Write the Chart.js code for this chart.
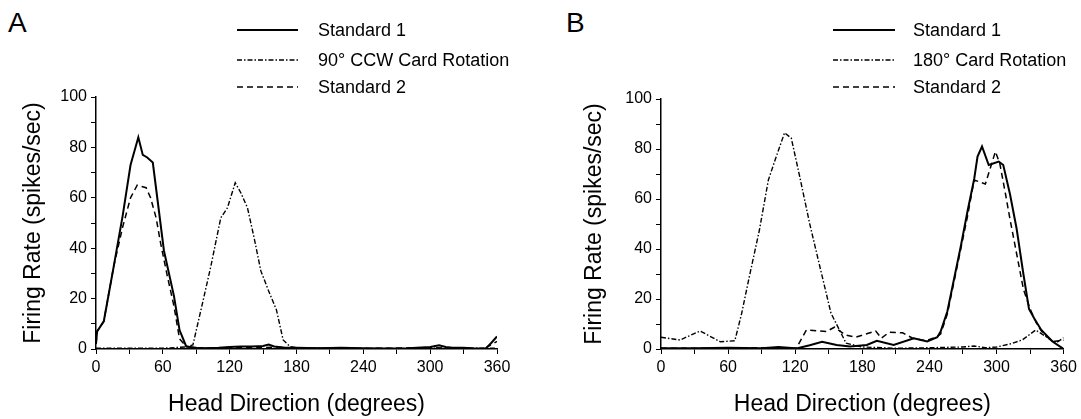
<!DOCTYPE html>
<html><head><meta charset="utf-8">
<script src="https://cdn.jsdelivr.net/npm/chart.js@4.4.1/dist/chart.umd.min.js"></script>
<style>
html,body{margin:0;padding:0;background:#fff;width:1081px;height:419px;overflow:hidden;font-family:"Liberation Sans",Arial,sans-serif;}
canvas{position:absolute;top:0;}
#ca{left:0;}
#cb{left:560px;}
.letter{position:absolute;font-size:28px;line-height:28px;color:#000;}
.leg{position:absolute;font-size:18px;line-height:18px;color:#000;white-space:nowrap;}
svg.ln{position:absolute;overflow:visible;}
</style></head><body>
<div class="letter" style="left:8px;top:9px;">A</div>
<div class="letter" style="left:566px;top:9px;">B</div>
<canvas id="ca" width="540" height="419" style="width:540px;height:419px"></canvas>
<canvas id="cb" width="521" height="419" style="width:521px;height:419px"></canvas>
<div id="legs"></div>
<script>
// ---- tick labels ----
const xTickLabels = [0, 60, 120, 180, 240, 300, 360];
const yTickLabels = [0, 20, 40, 60, 80, 100];

// ---- Panel A ----
const legendA = ['Standard 1', '90\u00B0 CCW Card Rotation', 'Standard 2'];
const aStd1Deg  = [0, 1, 7, 16, 24, 31, 38, 42, 46, 51, 61, 70, 75, 81, 90, 100, 110, 120, 130, 140, 150, 155, 160, 170, 180, 200, 220, 240, 260, 280, 300, 308, 314, 320, 330, 340, 350, 355, 360];
const aStd1Rate = [2, 7, 11, 33, 53, 73, 84, 77, 76, 74, 39, 21, 7.5, 1, 0.5, 0.3, 0.5, 0.8, 1, 1, 1.2, 1.8, 1, 0.5, 0.5, 0.3, 0.5, 0.3, 0.2, 0.3, 0.8, 1.5, 0.8, 0.5, 0.5, 0.2, 0.2, 2.5, 5];
const aRotDeg   = [0, 30, 60, 80, 87, 95, 103, 112, 118, 125, 130, 136, 142, 148, 155, 162, 168, 174, 180, 240, 300, 360];
const aRotRate  = [0.3, 0.3, 0.3, 0.8, 1.6, 17, 32.6, 52, 56, 66, 62, 56, 44, 31, 23, 15.5, 3.6, 1, 0.5, 0.2, 0.3, 0.3];
const aStd2Deg  = [0, 1, 7, 16, 24, 31, 37, 45, 49, 54, 58, 64, 70, 75, 81, 90, 120, 150, 160, 180, 240, 300, 330, 348, 360];
const aStd2Rate = [2, 7, 11, 33, 48.5, 60, 65, 64, 60, 52, 42, 29, 17, 4, 1, 0.3, 0.5, 0.5, 0.8, 0.3, 0.2, 0.5, 0.3, 0, 3];

// ---- Panel B ----
const legendB = ['Standard 1', '180\u00B0 Card Rotation', 'Standard 2'];
const bStd1Deg  = [0, 30, 60, 90, 105, 120, 122, 133, 144, 157, 169, 184, 193, 208, 226, 238, 247, 250, 256, 262, 268, 274, 280, 283, 287, 293, 302, 306, 312, 318, 324, 329, 334, 340, 350, 360];
const bStd1Rate = [0.3, 0.3, 0.5, 0.3, 0.8, 0.3, 0.3, 1.5, 2.9, 1.6, 1, 1.6, 3.3, 1.6, 4.3, 3, 4.7, 7, 15, 28, 41, 55, 68, 77, 81, 73.6, 75, 73.6, 62, 48, 30, 16, 12, 7.6, 3, 0];
const bRotDeg   = [0, 17, 35, 53, 66, 72, 79, 88, 96, 102, 110.5, 116.5, 124, 133, 142, 152, 165.5, 180, 210, 240, 270, 280, 290, 300, 312, 323, 335, 344, 352.6, 360];
const bRotRate  = [4.7, 3.6, 7.2, 2.9, 3.3, 14, 29, 47.6, 67.6, 75.6, 86.5, 84.3, 69, 50, 33, 14.3, 2.3, 0.8, 0.3, 0.5, 0.8, 1.2, 0.5, 0.8, 2, 3.6, 7.6, 5, 2.3, 4.5];
const bStd2Deg  = [0, 30, 60, 90, 120, 121, 130, 148, 155, 165, 174, 192, 197, 204, 216, 225, 237, 246, 250, 256, 262, 268, 274, 280, 290, 299, 303, 308, 312, 318, 324, 330, 336, 342, 350, 360];
const bStd2Rate = [0.3, 0.3, 0.3, 0.5, 0.3, 0.3, 7.6, 7, 8.7, 5.6, 4.7, 7.2, 4.3, 6.7, 6.5, 4.3, 3.3, 4.7, 6, 14, 27, 40, 53, 67.6, 66, 79, 74, 62, 52, 38, 24, 16, 10, 6, 3, 3.5];

const FONT = '"Liberation Sans", Arial, sans-serif';
const STY = [
  {w: 2, dash: []},
  {w: 1.4, dash: [5, 2, 1.5, 2]},
  {w: 1.5, dash: [6, 4]}
];

function pts(d, r) { return d.map((x, i) => ({x: x, y: r[i]})); }

function build(id, labels, degs, rates, g) {
  const ds = labels.map((l, i) => ({
    label: l, data: pts(degs[i], rates[i]),
    borderColor: '#000', borderWidth: STY[i].w, borderDash: STY[i].dash,
    pointRadius: 0, tension: 0, fill: false
  }));
  const gridOpt = {display: true, drawOnChartArea: false, drawTicks: true, tickLength: 5, tickColor: '#000', tickWidth: 1};
  const borderOpt = {display: true, color: '#000', width: 1.5};
  new Chart(document.getElementById(id), {
    type: 'line',
    data: {datasets: ds},
    options: {
      responsive: false, animation: false, devicePixelRatio: 1,
      layout: {padding: {left: 0, top: g.top, right: g.right, bottom: 0}},
      plugins: {legend: {display: false}, tooltip: {enabled: false}},
      scales: {
        x: {
          type: 'linear', min: 0, max: 360,
          afterFit: s => { s.height = g.xh; },
          ticks: {stepSize: 30, autoSkip: false, maxRotation: 0, padding: 4, color: '#000',
                  font: {family: FONT, size: 16},
                  callback: v => xTickLabels.includes(v) ? String(v) : ''},
          grid: gridOpt, border: borderOpt,
          title: {display: true, text: 'Head Direction (degrees)', color: '#000',
                  font: {family: FONT, size: 23, lineHeight: 1}, padding: {top: 0, bottom: g.xtpad}}
        },
        y: {
          type: 'linear', min: 0, max: 100,
          afterFit: s => { s.width = g.yw; },
          ticks: {stepSize: 10, autoSkip: false, padding: 4, color: '#000',
                  font: {family: FONT, size: 16},
                  callback: v => yTickLabels.includes(v) ? String(v) : ''},
          grid: gridOpt, border: borderOpt,
          title: {display: true, text: 'Firing Rate (spikes/sec)', color: '#000',
                  font: {family: FONT, size: 23, lineHeight: 1}, padding: {top: g.ytpad, bottom: 0}}
        }
      }
    }
  });
}

build('ca', legendA, [aStd1Deg, aRotDeg, aStd2Deg], [aStd1Rate, aRotRate, aStd2Rate],
      {top: 97, right: 43, xh: 70, yw: 96, xtpad: 3, ytpad: 22});
build('cb', legendB, [bStd1Deg, bRotDeg, bStd2Deg], [bStd1Rate, bRotRate, bStd2Rate],
      {top: 99, right: 16, xh: 70, yw: 101, xtpad: 3, ytpad: 23});

// ---- legends ----
function legend(labels, x1, x2, tx, rows) {
  const host = document.getElementById('legs');
  labels.forEach((l, i) => {
    const y = rows[i];
    const ns = 'http://www.w3.org/2000/svg';
    const svg = document.createElementNS(ns, 'svg');
    svg.setAttribute('class', 'ln');
    svg.setAttribute('width', x2 - x1); svg.setAttribute('height', 4);
    svg.style.left = x1 + 'px'; svg.style.top = (y - 2) + 'px';
    const ln = document.createElementNS(ns, 'line');
    ln.setAttribute('x1', 0); ln.setAttribute('x2', x2 - x1);
    ln.setAttribute('y1', 2); ln.setAttribute('y2', 2);
    ln.setAttribute('stroke', '#000'); ln.setAttribute('stroke-width', STY[i].w);
    if (STY[i].dash.length) ln.setAttribute('stroke-dasharray', STY[i].dash.join(' '));
    svg.appendChild(ln); host.appendChild(svg);
    const d = document.createElement('div');
    d.className = 'leg'; d.textContent = l;
    d.style.left = tx + 'px'; d.style.top = (y - 9) + 'px';
    host.appendChild(d);
  });
}
legend(legendA, 237, 298, 318, [30, 60, 87]);
legend(legendB, 833, 895, 913, [30, 60, 87]);
</script>
</body></html>
